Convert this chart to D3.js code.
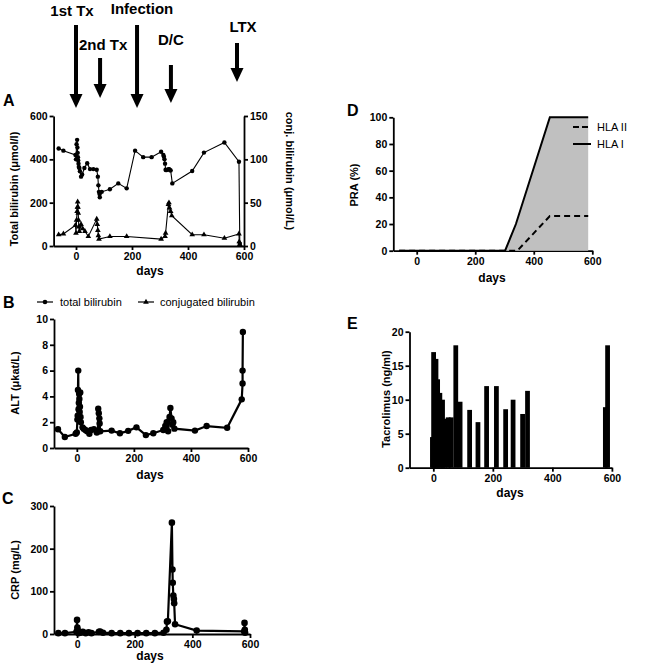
<!DOCTYPE html>
<html><head><meta charset="utf-8">
<script src="https://cdn.jsdelivr.net/npm/d3@7"></script>
<style>
body{margin:0;background:#fff;}
svg{font-family:"Liberation Sans",Arial,sans-serif;}
.tick text{font-weight:bold;font-size:10.5px;}
</style></head><body>
<svg id="c" width="661" height="665"></svg>
<script>
// ---------- DATA ----------
const xTicks = [0, 200, 400, 600];
const eventNames = ["1st Tx", "2nd Tx", "Infection", "D/C", "LTX"];
const eventDays = [0, 86, 218, 339, 575];

// Panel A: total bilirubin (left axis, µmol/l)
const totBiliDays = [-62,-45,-2,0,2,4,5,6,7,8,9,10,12,14,18,22,30,40,50,62,74,78,80,82,84,85,92,121,151,181,211,240,270,304,312,314,316,318,320,322,330,333,336,338,344,415,457,530,582,585];
const totBiliVals = [450,440,420,400,470,490,455,430,410,395,380,365,360,345,320,330,360,382,355,355,352,320,280,250,240,225,250,262,289,266,440,410,410,435,420,412,400,380,352,350,355,354,350,349,289,346,431,478,389,10];
// Panel A: conjugated bilirubin (right axis, µmol/L)
const conjDays = [-62,-45,-2,0,2,4,5,6,7,8,9,10,12,18,24,32,44,74,76,78,80,82,121,181,304,318,320,330,332,334,338,342,415,457,530,582,583,585];
const conjVals = [13,14,24,15,30,40,45,51,45,38,30,22,17,25,20,17,11,31,25,18,12,8,11,11,8,11,15,48,50,44,40,35,13,13,9,14,5,2];

// Panel B: ALT (µkat/L)
const altDays = [-66,-42,-4,0,2,3,4,5,6,7,8,9,10,11,12,13,14,20,24,30,36,44,50,60,70,74,75,77,79,80,82,122,151,180,209,242,268,303,310,315,320,325,328,332,335,338,342,414,455,527,578,581,581,582];
const altVals = [1.45,0.85,1.1,1.2,2.2,2.5,4.5,6.0,3.0,3.5,4.2,3.8,2.8,3.2,4.3,2.4,2.0,1.6,1.5,1.4,1.3,1.1,1.4,1.45,1.2,1.3,3.05,2.7,2.3,1.9,1.3,1.35,1.14,1.33,1.6,1.0,1.14,1.4,1.7,2.0,1.3,2.4,3.1,2.3,1.8,2.0,1.5,1.35,1.7,1.57,3.77,5.0,6.0,9.0];

// Panel C: CRP (mg/L)
const crpDays = [-65,-42,-2,0,1,2,3,5,12,20,30,40,50,76,80,90,120,150,180,210,240,270,300,310,312,315,329,331,332,334,336,337,340,415,580,581,582,583];
const crpVals = [2,2,5,33,15,10,5,2,3,5,2,4,2,5,6,3,2,2,2,2,2,2,3,10,29,30,261,151,120,90,82,72,23,8,6,26,10,3];

// Panel D: PRA (%)
const hla1Days = [-60, 302, 339, 455, 586];
const hla1Vals = [0, 0, 20, 100, 100];
const hla2Days = [-60, 344, 455, 586];
const hla2Vals = [0, 0, 26, 26];

// Panel E: Tacrolimus (ng/ml)
const tacDays = [-3,1,9,14.5,22,31,37,50,60,75.5,90,122,150,179,212,243,268,300,316.5,578,585.5];
const tacVals = [4.5,17,16,13,11,10,7.2,7.4,7.4,18,9.7,8.5,6.7,12,12,8.6,10,7.9,11.3,8.9,18];

// ---------- DRAW ----------
const svg = d3.select("#c");
const zip = (a,b) => a.map((d,i)=>[d,b[i]]);

function styleAxis(g, w){
  g.select(".domain").attr("stroke","#000").attr("stroke-width",w||1.8);
  g.selectAll(".tick line").attr("stroke","#000").attr("stroke-width",w||1.8);
  g.selectAll(".tick text").attr("fill","#000");
}
function panel(xr, yr, ydom, yticks, opts){
  const x = d3.scaleLinear().domain([-80,600]).range(xr);
  const y = d3.scaleLinear().domain(ydom).range(yr);
  const gx = svg.append("g").attr("transform",`translate(0,${yr[0]})`)
    .call(d3.axisBottom(x).tickValues(xTicks).tickSize(4).tickSizeOuter(0).tickPadding(3));
  styleAxis(gx, opts.sw);
  const gy = svg.append("g").attr("transform",`translate(${xr[0]},0)`)
    .call(d3.axisLeft(y).tickValues(yticks).tickSize(4).tickSizeOuter(0).tickPadding(2));
  styleAxis(gy, opts.sw);
  return {x,y};
}
function label(t, x, y, size, weight, rot, anchor){
  const s = svg.append("text").text(t).attr("font-size",size).attr("font-weight",weight||"bold")
    .attr("text-anchor",anchor||"middle").attr("fill","#000");
  if(rot){ s.attr("transform",`translate(${x},${y}) rotate(${rot})`); }
  else { s.attr("x",x).attr("y",y); }
  return s;
}
const tri = d3.symbol().type(d3.symbolTriangle);

// ---- Panel A ----
const A = panel([53.6,244],[246,116],[0,600],[0,200,400,600],{sw:1.8});
const yA2 = d3.scaleLinear().domain([0,150]).range([246,116]);
const gA2 = svg.append("g").attr("transform","translate(244,0)")
  .call(d3.axisRight(yA2).tickValues([0,50,100,150]).tickSize(4).tickSizeOuter(0).tickPadding(2));
styleAxis(gA2,1.8);
const lineA = d3.line().x(d=>A.x(d[0])).y(d=>A.y(d[1]));
const lineA2 = d3.line().x(d=>A.x(d[0])).y(d=>yA2(d[1]));
const tb = zip(totBiliDays,totBiliVals), cj = zip(conjDays,conjVals);
svg.append("path").attr("d",lineA(tb)).attr("fill","none").attr("stroke","#000").attr("stroke-width",1.1);
svg.selectAll(".pa").data(tb).join("circle").attr("cx",d=>A.x(d[0])).attr("cy",d=>A.y(d[1])).attr("r",2.2).attr("fill","#000");
svg.append("path").attr("d",lineA2(cj)).attr("fill","none").attr("stroke","#000").attr("stroke-width",1.1);
svg.selectAll(".pc").data(cj).join("path").attr("d",tri.size(14)())
  .attr("transform",d=>`translate(${A.x(d[0])},${yA2(d[1])})`).attr("fill","#000");
label("Total bilirubin (\u03bcmol/l)",18,189,11,"bold",-90);
label("conj. bilirubin (\u03bcmol/L)",286,171,11,"bold",90);
label("days",150,275,12);
label("A",3,106,16,"bold",0,"start");

// top events
const ev = [
  {top:25, tip:108, ty:16},
  {top:58, tip:98, ty:50},
  {top:25, tip:108, ty:14},
  {top:65, tip:103, ty:45},
  {top:43, tip:82, ty:32}
];
eventDays.forEach((d,i)=>{
  const cx = A.x(d), e = ev[i];
  svg.append("rect").attr("x",cx-2).attr("y",e.top).attr("width",4).attr("height",e.tip-e.top-12).attr("fill","#000");
  svg.append("path").attr("d",`M${cx-6.5},${e.tip-14}L${cx+6.5},${e.tip-14}L${cx},${e.tip}Z`).attr("fill","#000");
  label(eventNames[i], cx+(i===0?-4:(i===2?5:(i===4?6:(i===1?3:0)))), e.ty, 15);
});

// ---- Panel B ----
const B = panel([54,248],[448,319],[0,10],[0,2,4,6,8,10],{sw:1.8});
const alt = zip(altDays,altVals);
svg.append("path").attr("d",d3.line().x(d=>B.x(d[0])).y(d=>B.y(d[1]))(alt)).attr("fill","none").attr("stroke","#000").attr("stroke-width",2.2);
svg.selectAll(".pb").data(alt).join("circle").attr("cx",d=>B.x(d[0])).attr("cy",d=>B.y(d[1])).attr("r",3.2).attr("fill","#000");
label("ALT (\u03bckat/L)",19,383,11,"bold",-90);
label("days",150,479,12);
label("B",3,308,16,"bold",0,"start");
// legend
svg.append("line").attr("x1",37).attr("x2",53).attr("y1",302).attr("y2",302).attr("stroke","#000").attr("stroke-width",1.2);
svg.append("circle").attr("cx",45).attr("cy",302).attr("r",2.3).attr("fill","#000");
label("total bilirubin",60,306,11,"normal",0,"start");
svg.append("line").attr("x1",138).attr("x2",154).attr("y1",302).attr("y2",302).attr("stroke","#000").attr("stroke-width",1.2);
svg.append("path").attr("d",tri.size(14)()).attr("transform","translate(146,302)").attr("fill","#000");
label("conjugated bilirubin",160,306,11,"normal",0,"start");

// ---- Panel C ----
const C = panel([54,250],[634,506],[0,300],[0,100,200,300],{sw:1.8});
const crp = zip(crpDays,crpVals);
svg.append("path").attr("d",d3.line().x(d=>C.x(d[0])).y(d=>C.y(d[1]))(crp)).attr("fill","none").attr("stroke","#000").attr("stroke-width",2.2);
svg.selectAll(".pcr").data(crp).join("circle").attr("cx",d=>C.x(d[0])).attr("cy",d=>C.y(d[1])).attr("r",3.3).attr("fill","#000");
label("CRP (mg/L)",19,570,11,"bold",-90);
label("days",150,660,12);
label("C",2,504,16,"bold",0,"start");

// ---- Panel D ----
const D = panel([393.3,592.3],[250.7,117.3],[0,100],[0,20,40,60,80,100],{sw:1.8});
const h1 = zip(hla1Days,hla1Vals), h2 = zip(hla2Days,hla2Vals);
svg.append("path").attr("d",d3.area().x(d=>D.x(d[0])).y0(D.y(0)).y1(d=>D.y(d[1]))(h1)).attr("fill","#c0c0c0");
svg.append("path").attr("d",d3.line().x(d=>D.x(d[0])).y(d=>D.y(d[1]))(h1)).attr("fill","none").attr("stroke","#000").attr("stroke-width",2);
svg.append("path").attr("d",d3.line().x(d=>D.x(d[0])).y(d=>D.y(d[1]))(h2)).attr("fill","none").attr("stroke","#000").attr("stroke-width",2).attr("stroke-dasharray","6,4");
label("PRA (%)",358,185,11,"bold",-90);
label("days",492,282,12);
label("D",347,116,16,"bold",0,"start");
svg.append("line").attr("x1",573).attr("x2",591).attr("y1",127).attr("y2",127).attr("stroke","#000").attr("stroke-width",2).attr("stroke-dasharray","6,3");
label("HLA II",597,131,11,"normal",0,"start");
svg.append("line").attr("x1",573).attr("x2",591).attr("y1",144).attr("y2",144).attr("stroke","#000").attr("stroke-width",2);
label("HLA I",597,148,11,"normal",0,"start");

// ---- Panel E ----
const E = panel([409.5,611.9],[467.7,331.7],[0,20],[0,5,10,15,20],{sw:1.8});
const halfW = 8;
svg.selectAll(".bar").data(zip(tacDays,tacVals)).join("rect")
  .attr("x",d=>E.x(d[0]-halfW)).attr("width",d=>E.x(d[0]+halfW)-E.x(d[0]-halfW))
  .attr("y",d=>E.y(d[1])).attr("height",d=>E.y(0)-E.y(d[1])).attr("fill","#000");
label("Tacrolimus (ng/ml)",390,399,11,"bold",-90);
label("days",510,497,12);
label("E",347,329,16,"bold",0,"start");
</script></body></html>
